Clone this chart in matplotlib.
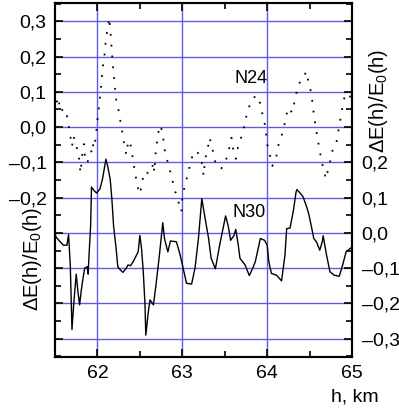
import numpy as np
import matplotlib.pyplot as plt
from matplotlib.ticker import FixedLocator, MultipleLocator, FuncFormatter

plt.rcParams['font.family'] = ['Liberation Sans', 'DejaVu Sans']
plt.rcParams['mathtext.fontset'] = 'custom'
plt.rcParams['mathtext.rm'] = 'Liberation Sans'
plt.rcParams['mathtext.it'] = 'Liberation Sans:italic'

# N24 (eixo esquerdo)
h24 = [61.50, 61.52, 61.54, 61.56, 61.58, 61.60, 61.62, 61.64, 61.66, 61.68,
       61.70, 61.72, 61.74, 61.76, 61.78, 61.80, 61.82, 61.84, 61.86, 61.88,
       61.90, 61.92, 61.94, 61.96, 61.98, 62.00, 62.02, 62.04, 62.06, 62.08,
       62.10, 62.12, 62.14, 62.16, 62.18, 62.20, 62.22, 62.24, 62.26, 62.28,
       62.30, 62.32, 62.34, 62.36, 62.38, 62.40, 62.42, 62.44, 62.46, 62.48,
       62.50, 62.52, 62.54, 62.56, 62.58, 62.60, 62.62, 62.64, 62.66, 62.67,
       62.69, 62.71, 62.73, 62.75, 62.77, 62.79, 62.81, 62.83, 62.86, 62.89,
       62.92, 62.95, 62.97, 62.99, 63.00, 63.03, 63.06, 63.09, 63.12, 63.16,
       63.19, 63.21, 63.24, 63.25, 63.27, 63.30, 63.32, 63.35, 63.37, 63.40,
       63.43, 63.46, 63.50, 63.53, 63.56, 63.58, 63.60, 63.63, 63.65, 63.68,
       63.72, 63.74, 63.77, 63.81, 63.85, 63.88, 63.91, 63.93, 63.95, 63.98,
       64.00, 64.03, 64.06, 64.09, 64.11, 64.13, 64.17, 64.21, 64.24, 64.26,
       64.29, 64.32, 64.34, 64.37, 64.40, 64.42, 64.46, 64.48, 64.50, 64.53,
       64.55, 64.58, 64.61, 64.64, 64.67, 64.69, 64.72, 64.75, 64.77, 64.81,
       64.83, 64.85, 64.87, 64.89, 64.91, 64.94, 64.96, 64.98, 65.00]
n24 = [0.100, 0.070, 0.085, 0.050, 0.055, 0.030, 0.030, 0.032, 0.005, -0.025,
       -0.055, -0.025, -0.055, -0.060, -0.080, -0.130, -0.080, -0.048, -0.100, -0.100,
       -0.090, -0.086, -0.045, -0.060, -0.030, 0.020, 0.060, 0.110, 0.165, 0.195,
       0.250, 0.280, 0.310, 0.250, 0.180, 0.130, 0.080, 0.060, 0.030, 0.005,
       -0.025, -0.055, -0.078, -0.045, -0.038, -0.062, -0.095, -0.125, -0.152, -0.175,
       -0.190, -0.165, -0.140, -0.130, -0.135, -0.125, -0.128, -0.120, -0.100, -0.128,
       -0.060, -0.030, 0.005, -0.001, -0.020, -0.060, -0.085, -0.100, -0.128, -0.156,
       -0.185, -0.208, -0.225, -0.240, -0.200, -0.166, -0.138, -0.108, -0.081, -0.067,
       -0.075, -0.085, -0.110, -0.138, -0.090, -0.061, -0.030, -0.053, -0.081, -0.110,
       -0.115, -0.117, -0.105, -0.081, -0.053, -0.030, -0.063, -0.090, -0.063, -0.039,
       -0.011, 0.017, 0.045, 0.073, 0.085, 0.090, 0.073, 0.055, 0.031, 0.000,
       -0.048, -0.077, -0.110, -0.100, -0.081, -0.053, -0.025, 0.013, 0.050, 0.055,
       0.041, 0.069, 0.092, 0.121, 0.132, 0.135, 0.158, 0.135, 0.121, 0.078,
       0.036, -0.011, -0.053, -0.095, -0.124, -0.147, -0.119, -0.091, -0.067, -0.053,
       -0.025, 0.003, 0.031, 0.060, 0.083, 0.088, 0.078, 0.088, 0.090]

# N30 (eixo direito)
h30 = [61.50, 61.51, 61.56, 61.60, 61.64, 61.66, 61.68, 61.70, 61.72, 61.75,
       61.77, 61.79, 61.81, 61.83, 61.85, 61.88, 61.89, 61.90, 61.92, 61.93,
       61.96, 61.99, 62.03, 62.06, 62.10, 62.12, 62.15, 62.17, 62.19, 62.22,
       62.24, 62.27, 62.30, 62.34, 62.36, 62.39, 62.42, 62.45, 62.48, 62.50,
       62.52, 62.54, 62.56, 62.57, 62.60, 62.62, 62.66, 62.69, 62.73, 62.77,
       62.79, 62.83, 62.86, 62.93, 62.97, 63.01, 63.05, 63.11, 63.15, 63.19,
       63.23, 63.27, 63.31, 63.34, 63.39, 63.44, 63.48, 63.51, 63.54, 63.57,
       63.61, 63.63, 63.66, 63.68, 63.74, 63.79, 63.83, 63.86, 63.89, 63.92,
       63.97, 64.00, 64.02, 64.05, 64.11, 64.17, 64.21, 64.23, 64.27, 64.31,
       64.34, 64.35, 64.38, 64.42, 64.46, 64.49, 64.52, 64.55, 64.58, 64.62,
       64.65, 64.66, 64.70, 64.74, 64.79, 64.85, 64.89, 64.93, 64.98, 65.00]
n30 = [0.001, -0.011, -0.025, -0.035, -0.035, -0.005, -0.091, -0.274, -0.204, -0.117,
       -0.166, -0.204, -0.162, -0.129, -0.100, -0.096, -0.117, -0.068, 0.021, 0.130,
       0.120, 0.113, 0.125, 0.153, 0.209, 0.190, 0.153, 0.097, 0.021, -0.044,
       -0.096, -0.105, -0.112, -0.100, -0.091, -0.093, -0.082, -0.068, -0.054, -0.007,
       -0.044, -0.110, -0.200, -0.290, -0.223, -0.190, -0.204, -0.148, -0.064, 0.029,
       -0.016, -0.054, -0.023, -0.025, -0.058, -0.100, -0.143, -0.145, -0.100, -0.016,
       0.097, 0.040, -0.016, -0.072, -0.102, -0.035, 0.012, 0.048, 0.021, -0.021,
       -0.007, 0.010, -0.035, -0.072, -0.091, -0.121, -0.100, -0.082, -0.049, -0.016,
       -0.021, -0.035, -0.082, -0.115, -0.120, -0.136, -0.063, 0.012, 0.014, 0.064,
       0.115, 0.123, 0.115, 0.104, 0.078, 0.054, 0.020, -0.016, -0.025, -0.049,
       -0.025, -0.008, -0.063, -0.110, -0.120, -0.123, -0.091, -0.054, -0.044, -0.040]


def fmt(v, lo, hi):
    v = round(v, 2)
    if v < lo - 1e-6 or v > hi + 1e-6:
        return ''
    s = '%.1f' % abs(v)
    s = s.replace('.', ',')
    if v < -1e-6:
        s = '\u2013' + s
    return s


fig = plt.figure(figsize=(3.99, 4.12), dpi=100)
ax1 = fig.add_axes([55 / 399, 1 - 357 / 412, 297 / 399, 354 / 412])
ax2 = ax1.twinx()

grid_c = '#5c5ce6'
ax1.set_xlim(61.5, 65)
ax1.set_ylim(-0.652, 0.352)
ax2.set_ylim(-0.352, 0.652)

ax1.plot(h24, n24, color='black', lw=1.3, linestyle=(0, (1, 5)))
ax2.plot(h30, n30, color='black', lw=1.0)

ax1.xaxis.set_major_locator(FixedLocator([62, 63, 64, 65]))
ax1.xaxis.set_minor_locator(MultipleLocator(0.5))
ax1.yaxis.set_major_locator(MultipleLocator(0.1))
ax1.yaxis.set_minor_locator(MultipleLocator(0.05))
ax2.yaxis.set_major_locator(MultipleLocator(0.1))
ax2.yaxis.set_minor_locator(MultipleLocator(0.05))
ax1.yaxis.set_major_formatter(FuncFormatter(lambda v, p: fmt(v, -0.2, 0.3)))
ax2.yaxis.set_major_formatter(FuncFormatter(lambda v, p: fmt(v, -0.3, 0.2)))

# grade azul
for v in [-0.6, -0.5, -0.4, -0.3, -0.2, -0.1, 0.0, 0.1, 0.2, 0.3]:
    ax1.axhline(v, color=grid_c, lw=1.0, zorder=0)
for v in [62, 63, 64]:
    ax1.axvline(v, color=grid_c, lw=1.0, zorder=0)

for a in (ax1, ax2):
    for s in a.spines.values():
        s.set_linewidth(1.5)
    a.tick_params(which='both', direction='in', width=1.2, labelsize=14, pad=6)
    a.tick_params(which='major', length=6)
    a.tick_params(which='minor', length=4)
ax1.tick_params(which='both', top=True, right=False)
ax2.tick_params(which='both', right=True, left=False)
ax2.tick_params(axis='y', pad=7)

lbl = '\u0394E(h)/E$_\\mathrm{0}$(h)'
fig.text(251 / 399, 1 - 78.5 / 412, 'N24', fontsize=13, ha='center', va='center')
fig.text(249 / 399, 1 - 212.5 / 412, 'N30', fontsize=13, ha='center', va='center')
fig.text(33 / 399, 1 - 259 / 412, lbl, fontsize=14.5, rotation=90,
         ha='center', va='center')
fig.text(379 / 399, 1 - 101 / 412, lbl, fontsize=14.5, rotation=90,
         ha='center', va='center')
fig.text(355 / 399, 1 - 397 / 412, 'h, km', fontsize=14, ha='center', va='center')

fig.savefig('out.png', dpi=100)
